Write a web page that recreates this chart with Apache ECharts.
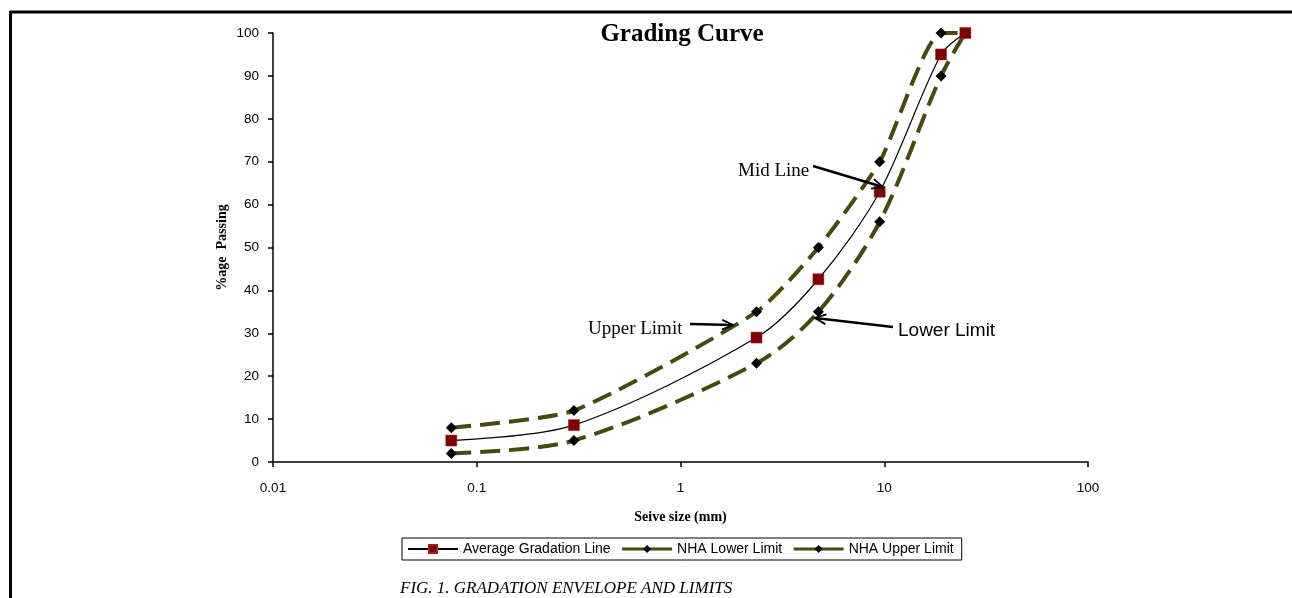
<!DOCTYPE html>
<html>
<head>
<meta charset="utf-8">
<script src="https://cdn.jsdelivr.net/npm/echarts@6/dist/echarts.min.js"></script>
<style>
html,body{margin:0;padding:0;background:#fff;}
#chart{width:1292px;height:598px;}
</style>
</head>
<body>
<div id="chart"></div>
<script>
// ---- data ----
const sieveSizes = [0.075, 0.3, 2.36, 4.75, 9.5, 19, 25];
const averageLine = [5, 8.6, 29, 42.6, 63, 95, 100];
const nhaLower = [2, 5, 23, 35, 56, 90, 100];
const nhaUpper = [8, 12, 35, 50, 70, 100, 100];
const seriesNames = ['Average Gradation Line', 'NHA Lower Limit', 'NHA Upper Limit'];
const xTicks = [0.01, 0.1, 1, 10, 100];

const pairs = (ys) => sieveSizes.map((x, i) => [x, ys[i]]);
const OLIVE = '#48480f';
const SERIF = '"Liberation Serif","Times New Roman",serif';
const SANS = '"Liberation Sans",Arial,sans-serif';

function arrow(x1, y1, x2, y2, head) {
  const a = Math.atan2(y2 - y1, x2 - x1);
  const h = head || 12, w = 0.42;
  const p1 = [x2 - h * Math.cos(a - w), y2 - h * Math.sin(a - w)];
  const p2 = [x2 - h * Math.cos(a + w), y2 - h * Math.sin(a + w)];
  return [
    { type: 'line', shape: { x1, y1, x2, y2 }, style: { stroke: '#000', lineWidth: 2.4 }, z: 100 },
    { type: 'polyline', shape: { points: [p1, [x2, y2], p2] }, style: { stroke: '#000', lineWidth: 1.8, fill: null }, z: 100 }
  ];
}

const chart = echarts.init(document.getElementById('chart'));
const option = {
  backgroundColor: '#fff',
  animation: false,
  title: {
    text: 'Grading Curve', left: 677, top: 17, textAlign: 'center',
    textStyle: { fontFamily: SERIF, fontWeight: 'bold', fontSize: 25, color: '#000' }
  },
  grid: { left: 273, right: 204, top: 33, bottom: 136, containLabel: false },
  xAxis: {
    type: 'log', logBase: 10, min: 0.01, max: 100,
    name: 'Seive size (mm)', nameLocation: 'middle', nameGap: 48, nameMoveOverlap: false,
    nameTextStyle: { fontFamily: SERIF, fontWeight: 'bold', fontSize: 14, color: '#000' },
    axisLine: { lineStyle: { color: '#000', width: 1.5 } },
    axisTick: { show: true, inside: false, length: 5, lineStyle: { color: '#000', width: 1.5 } },
    minorTick: { show: false },
    splitLine: { show: false },
    axisLabel: {
      fontFamily: SANS, fontSize: 13.5, color: '#000', margin: 19,
      formatter: (v) => { const t = xTicks.find(k => Math.abs(k - v) / k < 1e-6); return t === undefined ? '' : String(t); }
    }
  },
  yAxis: {
    type: 'value', min: 0, max: 100, interval: 10,
    name: '%age  Passing', nameLocation: 'middle', nameGap: 44, nameRotate: 90, nameMoveOverlap: false,
    nameTextStyle: { fontFamily: SERIF, fontWeight: 'bold', fontSize: 14, color: '#000' },
    axisLine: { show: true, lineStyle: { color: '#000', width: 1.5 } },
    axisTick: { show: true, inside: false, length: 5, lineStyle: { color: '#000', width: 1.5 } },
    splitLine: { show: false },
    axisLabel: { fontFamily: SANS, fontSize: 13.5, color: '#000', margin: 14 }
  },
  legend: {
    left: 402, top: 538, orient: 'horizontal',
    borderColor: '#000', borderWidth: 1, padding: [4, 8, 4, 5],
    itemWidth: 50, itemHeight: 10, itemGap: 10,
    textStyle: { fontFamily: SANS, fontSize: 14, color: '#000' },
    data: [
      { name: seriesNames[0] },
      { name: seriesNames[1], lineStyle: { width: 3, type: 'solid' } },
      { name: seriesNames[2], lineStyle: { width: 3, type: 'solid' } }
    ]
  },
  series: [
    {
      name: seriesNames[0], type: 'line', data: pairs(averageLine), smooth: 0.3,
      symbol: 'rect', symbolSize: 11,
      itemStyle: { color: '#800000', borderColor: '#a02020', borderWidth: 0.5 },
      lineStyle: { color: '#000', width: 1.2 }, z: 5
    },
    {
      name: seriesNames[1], type: 'line', data: pairs(nhaLower), smooth: 0.3,
      symbol: 'diamond', symbolSize: 11,
      itemStyle: { color: '#000' },
      lineStyle: { color: OLIVE, width: 4, type: [20, 9] }, z: 3
    },
    {
      name: seriesNames[2], type: 'line', data: pairs(nhaUpper), smooth: 0.2,
      symbol: 'diamond', symbolSize: 11,
      itemStyle: { color: '#000' },
      lineStyle: { color: OLIVE, width: 4, type: [20, 9] }, z: 3
    }
  ],
  graphic: [
    { type: 'line', shape: { x1: 10, y1: 12, x2: 1292, y2: 12 }, style: { stroke: '#000', lineWidth: 3 } },
    { type: 'line', shape: { x1: 10.5, y1: 11, x2: 10.5, y2: 598 }, style: { stroke: '#000', lineWidth: 3 } },
    { type: 'text', left: 738, top: 162, style: { text: 'Mid Line', font: '19px ' + SERIF, fill: '#000' } },
    { type: 'text', left: 588, top: 320, style: { text: 'Upper Limit', font: '19px ' + SERIF, fill: '#000' } },
    { type: 'text', left: 898, top: 321, style: { text: 'Lower Limit', font: '19px ' + SANS, fill: '#000' } },
    { type: 'text', left: 400, top: 580, style: { text: 'FIG. 1. GRADATION ENVELOPE AND LIMITS', font: 'italic 17px ' + SERIF, fill: '#000' } },
    ...arrow(813, 166, 883, 187),
    ...arrow(690, 324, 733, 325),
    ...arrow(893, 327, 815, 318)
  ]
};
chart.setOption(option);
</script>
</body>
</html>
